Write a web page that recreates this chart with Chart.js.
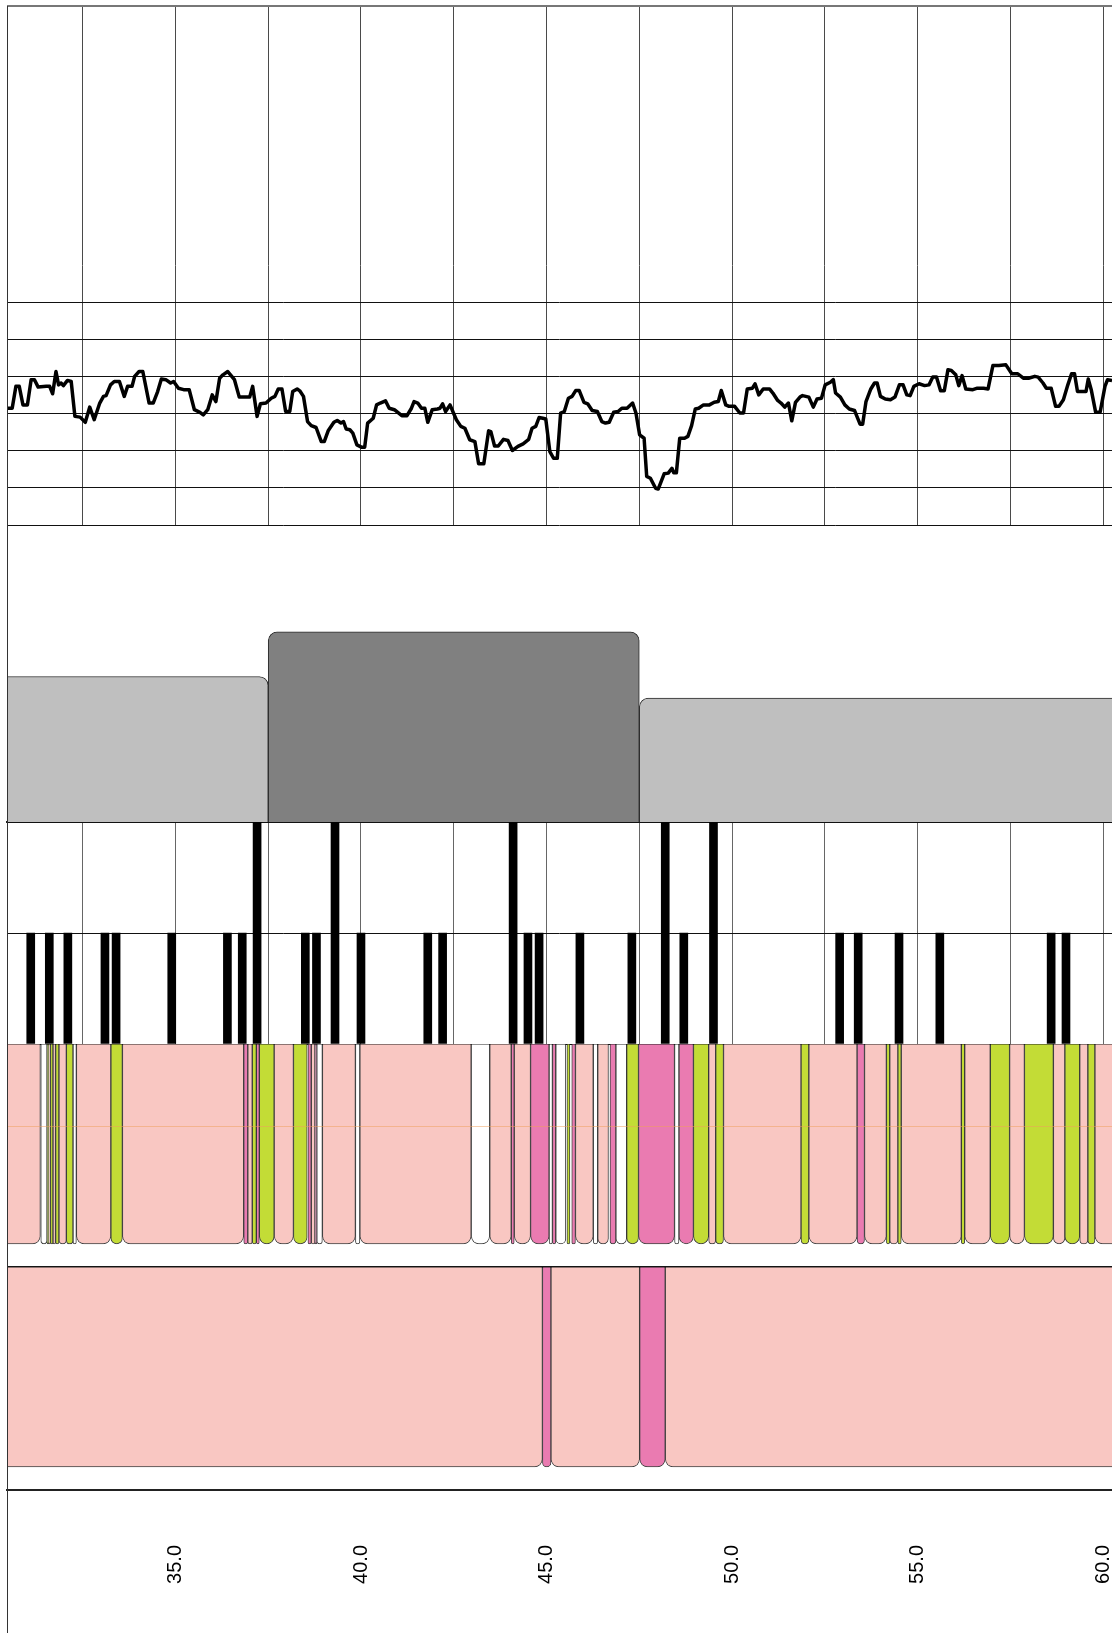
<!DOCTYPE html>
<html>
<head>
<meta charset="utf-8">
<script src="https://cdn.jsdelivr.net/npm/chart.js@4.4.1/dist/chart.umd.min.js"></script>
<style>
  html, body { margin: 0; padding: 0; background: #fff; }
  #page { position: relative; width: 1112px; height: 1633px; overflow: hidden; }
  #page canvas { position: absolute; left: 0; }
  #frame { position: absolute; left: 7px; top: 6px; height: 1627px; width: 0; border-left: 1px solid #333; }
</style>
</head>
<body>
<div id="page">
  <canvas id="signalChart" width="1112" height="526" style="top:0px;width:1112px;height:526px"></canvas>
  <canvas id="blockChart" width="1112" height="298" style="top:525px;width:1112px;height:298px"></canvas>
  <canvas id="tickChart" width="1112" height="223" style="top:822px;width:1112px;height:223px"></canvas>
  <canvas id="segmentChart" width="1112" height="589" style="top:1044px;width:1112px;height:589px"></canvas>
  <div id="frame"></div>
</div>
<script>
const X_MIN = 30.46;
const X_MAX = 60.24;

// signal track (x position, value)
const signalX = [30.48, 30.60, 30.70, 30.79, 30.89, 31.01, 31.11, 31.20, 31.30, 31.52, 31.61, 31.69, 31.78, 31.85, 31.92, 31.98,
  32.09, 32.19, 32.29, 32.43, 32.57, 32.69, 32.81, 32.96, 33.06, 33.13, 33.25, 33.35, 33.49, 33.62, 33.71, 33.83,
  33.90, 34.02, 34.12, 34.29, 34.40, 34.52, 34.62, 34.74, 34.87, 34.95, 35.08, 35.22, 35.37, 35.51, 35.66, 35.75,
  35.87, 35.99, 36.09, 36.19, 36.28, 36.41, 36.59, 36.72, 36.86, 37.00, 37.08, 37.20, 37.29, 37.44, 37.58, 37.68,
  37.77, 37.87, 37.97, 38.08, 38.16, 38.28, 38.35, 38.45, 38.56, 38.66, 38.79, 38.93, 39.01, 39.12, 39.27, 39.36,
  39.46, 39.53, 39.60, 39.70, 39.78, 39.89, 40.01, 40.10, 40.18, 40.33, 40.42, 40.52, 40.66, 40.76, 40.90, 41.10,
  41.24, 41.36, 41.43, 41.53, 41.63, 41.72, 41.80, 41.92, 42.06, 42.13, 42.20, 42.28, 42.40, 42.57, 42.69, 42.80,
  42.93, 43.07, 43.17, 43.31, 43.44, 43.50, 43.60, 43.70, 43.84, 43.96, 44.08, 44.23, 44.37, 44.52, 44.61, 44.71,
  44.80, 44.90, 44.98, 45.09, 45.19, 45.29, 45.38, 45.48, 45.59, 45.69, 45.79, 45.88, 46.01, 46.11, 46.23, 46.37,
  46.49, 46.59, 46.69, 46.81, 46.93, 47.03, 47.17, 47.32, 47.41, 47.51, 47.63, 47.70, 47.80, 47.94, 48.01, 48.17,
  48.28, 48.38, 48.43, 48.50, 48.59, 48.72, 48.81, 48.91, 49.01, 49.10, 49.23, 49.39, 49.52, 49.63, 49.71, 49.83,
  49.92, 50.07, 50.21, 50.31, 50.41, 50.55, 50.62, 50.72, 50.84, 51.01, 51.10, 51.23, 51.32, 51.42, 51.52, 51.61,
  51.71, 51.83, 51.90, 52.07, 52.19, 52.29, 52.41, 52.51, 52.65, 52.73, 52.79, 52.92, 53.04, 53.16, 53.30, 53.45,
  53.52, 53.61, 53.74, 53.84, 53.91, 54.00, 54.13, 54.27, 54.39, 54.51, 54.61, 54.71, 54.80, 54.90, 55.04, 55.19,
  55.31, 55.41, 55.51, 55.62, 55.72, 55.82, 55.91, 56.03, 56.11, 56.20, 56.30, 56.49, 56.61, 56.78, 56.90, 57.03,
  57.19, 57.38, 57.54, 57.70, 57.85, 57.99, 58.16, 58.25, 58.38, 58.47, 58.60, 58.72, 58.81, 58.93, 59.05, 59.15,
  59.23, 59.31, 59.44, 59.54, 59.60, 59.68, 59.80, 59.92, 60.05, 60.12, 60.24];
const signalY = [3.15, 3.15, 3.74, 3.74, 3.24, 3.24, 3.92, 3.92, 3.72, 3.74, 3.74, 3.54, 4.14, 3.78, 3.83, 3.76,
  3.90, 3.87, 2.93, 2.91, 2.77, 3.18, 2.84, 3.29, 3.47, 3.49, 3.78, 3.87, 3.87, 3.47, 3.74, 3.74,
  4.01, 4.14, 4.14, 3.29, 3.29, 3.60, 3.94, 3.92, 3.83, 3.87, 3.69, 3.65, 3.65, 3.11, 3.04, 2.97,
  3.11, 3.51, 3.33, 3.96, 4.05, 4.14, 3.92, 3.45, 3.45, 3.45, 3.74, 2.93, 3.27, 3.29, 3.42, 3.47,
  3.67, 3.67, 3.06, 3.06, 3.60, 3.67, 3.62, 3.47, 2.79, 2.68, 2.63, 2.25, 2.25, 2.55, 2.77, 2.82,
  2.75, 2.79, 2.59, 2.57, 2.48, 2.16, 2.10, 2.10, 2.75, 2.88, 3.24, 3.29, 3.35, 3.15, 3.11, 2.95,
  2.95, 3.15, 3.33, 3.29, 3.15, 3.15, 2.77, 3.11, 3.13, 3.15, 3.27, 3.06, 3.24, 2.84, 2.66, 2.61,
  2.30, 2.25, 1.65, 1.65, 2.54, 2.52, 2.13, 2.13, 2.31, 2.28, 2.01, 2.12, 2.19, 2.31, 2.61, 2.66,
  2.90, 2.88, 2.86, 1.98, 1.80, 1.80, 3.02, 3.06, 3.42, 3.47, 3.63, 3.63, 3.31, 3.27, 3.09, 3.06,
  2.79, 2.75, 2.77, 3.04, 3.06, 3.15, 3.15, 3.29, 3.02, 2.43, 2.34, 1.31, 1.26, 0.99, 0.97, 1.38,
  1.40, 1.53, 1.41, 1.41, 2.34, 2.34, 2.39, 2.68, 3.13, 3.15, 3.24, 3.24, 3.31, 3.33, 3.63, 3.24,
  3.20, 3.20, 3.02, 3.02, 3.67, 3.69, 3.81, 3.51, 3.67, 3.67, 3.56, 3.36, 3.29, 3.18, 3.29, 2.81,
  3.31, 3.45, 3.49, 3.45, 3.18, 3.40, 3.42, 3.78, 3.85, 3.92, 3.56, 3.45, 3.24, 3.13, 3.09, 2.72,
  2.72, 3.33, 3.67, 3.83, 3.83, 3.47, 3.40, 3.38, 3.45, 3.78, 3.78, 3.51, 3.49, 3.74, 3.81, 3.76,
  3.78, 3.99, 3.99, 3.62, 3.62, 4.19, 4.17, 4.05, 3.76, 4.03, 3.67, 3.65, 3.69, 3.69, 3.67, 4.30,
  4.30, 4.32, 4.08, 4.08, 3.96, 3.96, 4.01, 3.99, 3.83, 3.69, 3.69, 3.20, 3.20, 3.38, 3.78, 4.08,
  4.08, 3.60, 3.60, 3.60, 3.94, 3.65, 3.04, 3.04, 3.74, 3.92, 3.90];

// region blocks
const blockStart = [30.0, 37.5, 47.5];
const blockEnd = [37.5, 47.5, 61.0];
const blockHeight = [0.49, 0.64, 0.417];
const blockShade = ['light', 'dark', 'light'];

// marker positions
const shortMarks = [31.1, 31.6, 32.1, 33.1, 33.4, 34.9, 36.4, 36.8, 38.5, 38.8, 40.0, 41.8, 42.2, 44.5, 44.8,
  45.9, 47.3, 48.7, 52.9, 53.4, 54.5, 55.6, 58.6, 59.0];
const tallMarks = [37.2, 39.3, 44.1, 48.2, 49.5];

// annotation segments: [kind, start, end]
const trackA = [
  ['p', 30.0, 31.36], ['w', 31.37, 31.54], ['g', 31.54, 31.59], ['p', 31.59, 31.63], ['g', 31.63, 31.70],
  ['p', 31.70, 31.77], ['g', 31.77, 31.86], ['p', 31.86, 32.06], ['g', 32.06, 32.24], ['w', 32.24, 32.33],
  ['p', 32.33, 33.26], ['g', 33.26, 33.57], ['p', 33.57, 36.84], ['m', 36.84, 36.95], ['p', 36.95, 37.07],
  ['g', 37.07, 37.18], ['m', 37.18, 37.26], ['g', 37.26, 37.66], ['p', 37.66, 38.18], ['g', 38.18, 38.55],
  ['m', 38.57, 38.66], ['p', 38.66, 38.76], ['m', 38.76, 38.81], ['w', 38.81, 38.96], ['p', 38.96, 39.85],
  ['w', 39.85, 39.97], ['p', 39.97, 42.97], ['w', 42.97, 43.47], ['p', 43.47, 44.05], ['m', 44.05, 44.13],
  ['p', 44.13, 44.57], ['m', 44.57, 45.07], ['w', 45.07, 45.16], ['m', 45.16, 45.25], ['w', 45.25, 45.52],
  ['g', 45.55, 45.63], ['m', 45.68, 45.78], ['p', 45.78, 46.26], ['w', 46.26, 46.38], ['p', 46.38, 46.67],
  ['m', 46.71, 46.87], ['w', 46.87, 47.16], ['g', 47.16, 47.48], ['m', 47.48, 48.45], ['w', 48.45, 48.57],
  ['m', 48.57, 48.96], ['g', 48.96, 49.37], ['p', 49.37, 49.56], ['g', 49.56, 49.77], ['p', 49.77, 51.86],
  ['g', 51.86, 52.07], ['p', 52.07, 53.37], ['m', 53.37, 53.57], ['p', 53.57, 54.16], ['g', 54.16, 54.25],
  ['p', 54.25, 54.47], ['g', 54.47, 54.56], ['p', 54.56, 56.18], ['g', 56.18, 56.27], ['p', 56.27, 56.96],
  ['g', 56.96, 57.48], ['p', 57.48, 57.88], ['g', 57.88, 58.66], ['p', 58.66, 58.97], ['g', 58.97, 59.37],
  ['p', 59.37, 59.59], ['g', 59.59, 59.78], ['p', 59.78, 61.0]
];
const trackB = [
  ['p', 30.0, 44.89], ['m', 44.89, 45.12], ['p', 45.12, 47.51], ['m', 47.51, 48.20], ['p', 48.20, 61.0]
];

const xTickStep = 5;
const TRACK_A_Y = 1.552;
const TRACK_B_Y = 0.552;
const TRACK_A_GUIDE = 1.63;

const kindColors = { p: '#f9c7c2', g: '#c3dc36', m: '#ea7bb1', w: '#ffffff' };
const shadeColors = { light: '#bfbfbf', dark: '#808080' };

Chart.defaults.font.family = '"Liberation Sans", Arial, sans-serif';
Chart.defaults.animation = false;
Chart.defaults.plugins.legend.display = false;
Chart.defaults.plugins.tooltip.enabled = false;

function tickVal(c) {
  return c.tick ? c.tick.value : NaN;
}

function xScale(gridColor, extra) {
  return Object.assign({
    type: 'linear',
    min: X_MIN,
    max: X_MAX,
    offset: false,
    grid: { display: !!gridColor, color: gridColor || 'transparent', drawTicks: false, offset: false },
    border: { display: false },
    ticks: { display: false, stepSize: 2.5, includeBounds: false }
  }, extra || {});
}

function hiddenY(min, max, gridColor, gridWidth) {
  return {
    type: 'linear',
    min: min,
    max: max,
    offset: false,
    ticks: { display: false, stepSize: 1 },
    grid: { display: !!gridColor, offset: false, drawTicks: false, color: gridColor || 'transparent', lineWidth: gridWidth || 1 },
    border: { display: false }
  };
}

// signal line + empty track above
new Chart(document.getElementById('signalChart'), {
  type: 'line',
  data: {
    datasets: [{
      data: signalX.map((x, i) => ({ x: x, y: signalY[i] })),
      borderColor: '#000',
      borderWidth: 3.5,
      borderJoinStyle: 'round',
      pointRadius: 0,
      tension: 0
    }]
  },
  options: {
    responsive: false,
    layout: { padding: { top: 6, left: 7, right: 0, bottom: 1 } },
    scales: {
      x: xScale('#4a4a4a'),
      y: hiddenY(0, 14,
        c => tickVal(c) <= 6 ? '#111' : (tickVal(c) === 14 ? '#777' : 'transparent'),
        c => tickVal(c) === 14 ? 2 : 1)
    }
  }
});

// grey region blocks
new Chart(document.getElementById('blockChart'), {
  type: 'bar',
  data: {
    datasets: blockStart.map((s, i) => ({
      data: [{ x: (s + blockEnd[i]) / 2, y: blockHeight[i] }],
      backgroundColor: shadeColors[blockShade[i]],
      borderColor: '#2a2a2a',
      borderWidth: 1,
      borderSkipped: 'start',
      borderRadius: { topLeft: 9, topRight: 9, bottomLeft: 0, bottomRight: 0 },
      grouped: false,
      barThickness: ctx => {
        const sx = ctx.chart.scales.x;
        if (!sx || !sx.width) return 1;
        return Math.abs(sx.getPixelForValue(blockEnd[i]) - sx.getPixelForValue(s));
      }
    }))
  },
  options: {
    responsive: false,
    layout: { padding: { top: 0, left: 7, right: 0, bottom: 1 } },
    scales: {
      x: xScale(null, { border: { display: true, color: '#222', width: 2 } }),
      y: hiddenY(0, 1)
    }
  }
});

// marker ticks
new Chart(document.getElementById('tickChart'), {
  type: 'bar',
  data: {
    datasets: [{
      data: shortMarks.map(x => ({ x: x, y: 1 })).concat(tallMarks.map(x => ({ x: x, y: 2 }))),
      backgroundColor: '#000',
      borderWidth: 0,
      barThickness: 8
    }]
  },
  options: {
    responsive: false,
    layout: { padding: { top: 0, left: 7, right: 0, bottom: 1 } },
    scales: {
      x: xScale('#666'),
      y: hiddenY(0, 2, '#111', 1)
    }
  }
});

// annotation segment tracks + bottom axis
const segments = trackA.map(s => ({ kind: s[0], x: [s[1], s[2]], y: TRACK_A_Y }))
  .concat(trackB.map(s => ({ kind: s[0], x: [s[1], s[2]], y: TRACK_B_Y })));

new Chart(document.getElementById('segmentChart'), {
  type: 'bar',
  data: {
    datasets: [{
      type: 'line',
      indexAxis: 'x',
      data: [{ x: X_MIN, y: TRACK_A_GUIDE }, { x: X_MAX, y: TRACK_A_GUIDE }],
      borderColor: 'rgba(240,160,90,0.5)',
      borderWidth: 1,
      pointRadius: 0,
      order: 0
    }, {
      data: segments.map(s => ({ x: s.x, y: s.y })),
      backgroundColor: segments.map(s => kindColors[s.kind]),
      borderColor: 'rgba(35,35,35,0.85)',
      borderWidth: 1,
      borderSkipped: false,
      borderRadius: { topLeft: 0, topRight: 0, bottomLeft: 8, bottomRight: 8 },
      barThickness: 200,
      order: 1
    }]
  },
  options: {
    indexAxis: 'y',
    responsive: false,
    layout: { padding: { top: 0, left: 7, right: 0, bottom: 0 } },
    scales: {
      x: {
        type: 'linear',
        min: X_MIN,
        max: X_MAX,
        offset: false,
        grid: { display: false, drawTicks: false, offset: false },
        border: { display: true, color: '#222', width: 2 },
        ticks: {
          stepSize: xTickStep,
          includeBounds: false,
          autoSkip: false,
          maxRotation: 90,
          minRotation: 90,
          padding: 55,
          color: '#000',
          font: { size: 20 },
          callback: v => Number(v).toFixed(1)
        },
        afterFit: s => {
          s.height = 143;
          s.paddingLeft = 0;
          s.paddingRight = 0;
        }
      },
      y: hiddenY(0, 2,
        c => tickVal(c) >= 1 ? '#111' : 'transparent',
        c => tickVal(c) === 1 ? 2 : 1)
    }
  }
});
</script>
</body>
</html>
